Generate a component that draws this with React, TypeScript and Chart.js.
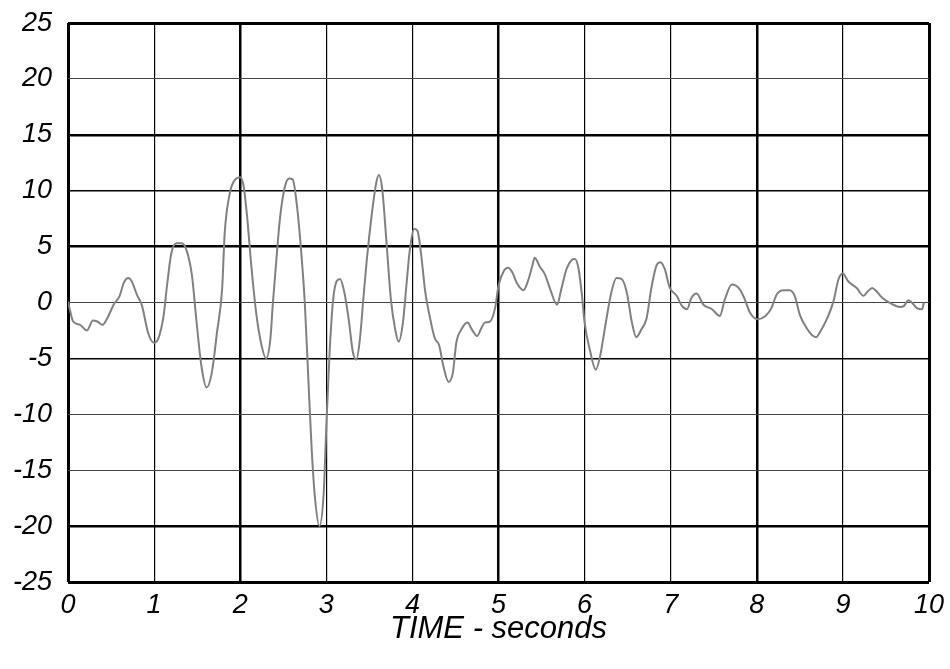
import React, { useEffect, useRef } from 'react';
import { Chart, registerables } from 'chart.js';

Chart.register(...registerables);

// Time in seconds
const timeSeconds: number[] = [
  0, 0.06, 0.14, 0.22, 0.29, 0.34, 0.40, 0.45, 0.53, 0.60,
  0.65, 0.70, 0.74, 0.80, 0.86, 0.93, 1.00, 1.05, 1.11, 1.15,
  1.20, 1.26, 1.32, 1.38, 1.44, 1.49, 1.55, 1.61, 1.67, 1.73,
  1.79, 1.82, 1.88, 1.94, 2.00, 2.04, 2.08, 2.13, 2.19, 2.25,
  2.30, 2.35, 2.38, 2.42, 2.46, 2.52, 2.57, 2.61, 2.66, 2.71,
  2.75, 2.79, 2.83, 2.87, 2.92, 2.97, 3.00, 3.04, 3.08, 3.12,
  3.16, 3.21, 3.26, 3.31, 3.35, 3.39, 3.43, 3.47, 3.53, 3.58,
  3.61, 3.65, 3.70, 3.75, 3.80, 3.84, 3.89, 3.93, 3.97, 4.02,
  4.06, 4.10, 4.15, 4.20, 4.26, 4.31, 4.36, 4.42, 4.47, 4.51,
  4.57, 4.64, 4.69, 4.75, 4.80, 4.84, 4.90, 4.96, 5.00, 5.06,
  5.11, 5.16, 5.21, 5.29, 5.35, 5.39, 5.42, 5.48, 5.54, 5.60,
  5.68, 5.73, 5.79, 5.85, 5.89, 5.93, 5.97, 6.00, 6.06, 6.13,
  6.18, 6.24, 6.31, 6.37, 6.43, 6.49, 6.55, 6.60, 6.66, 6.72,
  6.78, 6.84, 6.88, 6.93, 6.99, 7.07, 7.13, 7.19, 7.24, 7.30,
  7.38, 7.48, 7.57, 7.63, 7.71, 7.80, 7.86, 7.92, 8.01, 8.10,
  8.17, 8.23, 8.31, 8.38, 8.44, 8.50, 8.58, 8.64, 8.69, 8.73,
  8.83, 8.89, 8.95, 9.00, 9.06, 9.16, 9.24, 9.29, 9.34, 9.39,
  9.46, 9.56, 9.66, 9.71, 9.76, 9.80, 9.86, 9.92, 9.94,
];

// Signal values
const signalValues: number[] = [
  0.1, -1.7, -2.0, -2.5, -1.6, -1.7, -2.0, -1.5, -0.2, 0.6,
  1.8, 2.2, 1.9, 0.7, -0.3, -2.7, -3.6, -3.2, -1.2, 1.5,
  4.4, 5.3, 5.3, 4.6, 2.4, -1.5, -5.7, -7.6, -6.3, -2.7,
  1.2, 6.2, 9.8, 11.0, 11.2, 10.4, 7.7, 3.2, -1.2, -3.9,
  -5.0, -3.3, 0.0, 3.8, 7.4, 10.4, 11.1, 11.0, 8.6, 4.4,
  0.0, -6.6, -13.1, -17.6, -20.0, -17.0, -11.1, -4.2, 0.3, 1.9,
  2.1, 0.9, -1.5, -4.5, -5.1, -3.3, 0.3, 3.8, 8.0, 10.7,
  11.4, 10.1, 5.3, 0.3, -2.4, -3.5, -1.8, 1.5, 4.7, 6.6,
  6.4, 4.4, 0.9, -1.2, -3.2, -3.8, -5.7, -7.1, -6.3, -3.6,
  -2.4, -1.8, -2.4, -3.0, -2.3, -1.8, -1.7, -0.5, 1.5, 2.8,
  3.1, 2.7, 1.8, 1.1, 2.1, 3.2, 4.0, 3.2, 2.5, 1.2,
  -0.2, 1.2, 3.0, 3.8, 3.9, 3.0, 0.6, -1.8, -4.2, -6.0,
  -4.8, -2.1, 0.9, 2.2, 2.1, 0.9, -1.8, -3.1, -2.4, -1.4,
  1.5, 3.4, 3.6, 3.0, 1.3, 0.6, -0.3, -0.6, 0.4, 0.8,
  -0.2, -0.6, -1.2, 0.3, 1.6, 1.2, 0.3, -0.9, -1.5, -1.2,
  -0.5, 0.7, 1.1, 1.1, 0.6, -1.1, -2.3, -2.9, -3.1, -2.7,
  -1.2, 0.1, 2.1, 2.6, 1.9, 1.3, 0.6, 1.0, 1.3, 1.0,
  0.4, -0.1, -0.4, -0.3, 0.2, 0.0, -0.5, -0.6, 0.0,
];

const xMin = 0;
const xMax = 10;
const xStep = 1;
const yMin = -25;
const yMax = 25;
const yStep = 5;
const xTitle = 'TIME - seconds';

const thickX = [2, 5, 8];
const thickY = [15, 5, -20];
const mediumY = [10, -5];

export default function App() {
  const canvasRef = useRef<HTMLCanvasElement | null>(null);

  useEffect(() => {
    const canvas = canvasRef.current;
    if (!canvas) return;
    const points = timeSeconds.map((t, i) => ({ x: t, y: signalValues[i] }));
    const family = '"Liberation Sans", Arial, sans-serif';
    const font = { family, style: 'italic' as const, size: 27 };

    const chart = new Chart(canvas, {
      type: 'line',
      data: {
        datasets: [
          {
            data: points,
            borderColor: '#808080',
            borderWidth: 2,
            pointRadius: 0,
            cubicInterpolationMode: 'monotone',
            fill: false,
          },
        ],
      },
      options: {
        animation: false,
        responsive: false,
        layout: { padding: { left: 0, top: 23, right: 21, bottom: 0 } },
        plugins: { legend: { display: false }, tooltip: { enabled: false } },
        scales: {
          x: {
            type: 'linear',
            min: xMin,
            max: xMax,
            ticks: { stepSize: xStep, color: '#000', font, padding: 7, maxRotation: 0 },
            border: { display: false },
            grid: {
              drawTicks: false,
              color: '#000',
              lineWidth: (ctx: any) => {
                const v = ctx.tick?.value;
                if (v === xMin || v === xMax) return 3;
                if (thickX.includes(v)) return 2.5;
                return 1.2;
              },
            },
            title: {
              display: true,
              text: xTitle,
              color: '#000',
              font: { family, style: 'italic', size: 31 },
              padding: { top: 2, bottom: 21 },
            },
            afterFit: (scale: any) => {
              scale.height = 87;
              scale.paddingLeft = 0;
              scale.paddingRight = 0;
            },
          },
          y: {
            type: 'linear',
            min: yMin,
            max: yMax,
            ticks: { stepSize: yStep, color: '#000', font, padding: 16 },
            border: { display: false },
            grid: {
              drawTicks: false,
              color: (ctx: any) => {
                const v = ctx.tick?.value;
                if (v === yMin || v === yMax || thickY.includes(v) || mediumY.includes(v)) return '#000';
                return '#444';
              },
              lineWidth: (ctx: any) => {
                const v = ctx.tick?.value;
                if (v === yMin || v === yMax) return 3;
                if (thickY.includes(v)) return 2.5;
                if (mediumY.includes(v)) return 1.6;
                return 1.1;
              },
            },
            afterFit: (scale: any) => {
              scale.width = 68;
              scale.paddingTop = 0;
              scale.paddingBottom = 0;
            },
          },
        },
      },
    });

    return () => chart.destroy();
  }, []);

  return (
    <div style={{ position: 'fixed', left: 0, top: 0, width: 950, height: 669, background: '#fff' }}>
      <canvas ref={canvasRef} width={950} height={669} style={{ display: 'block' }} />
    </div>
  );
}
